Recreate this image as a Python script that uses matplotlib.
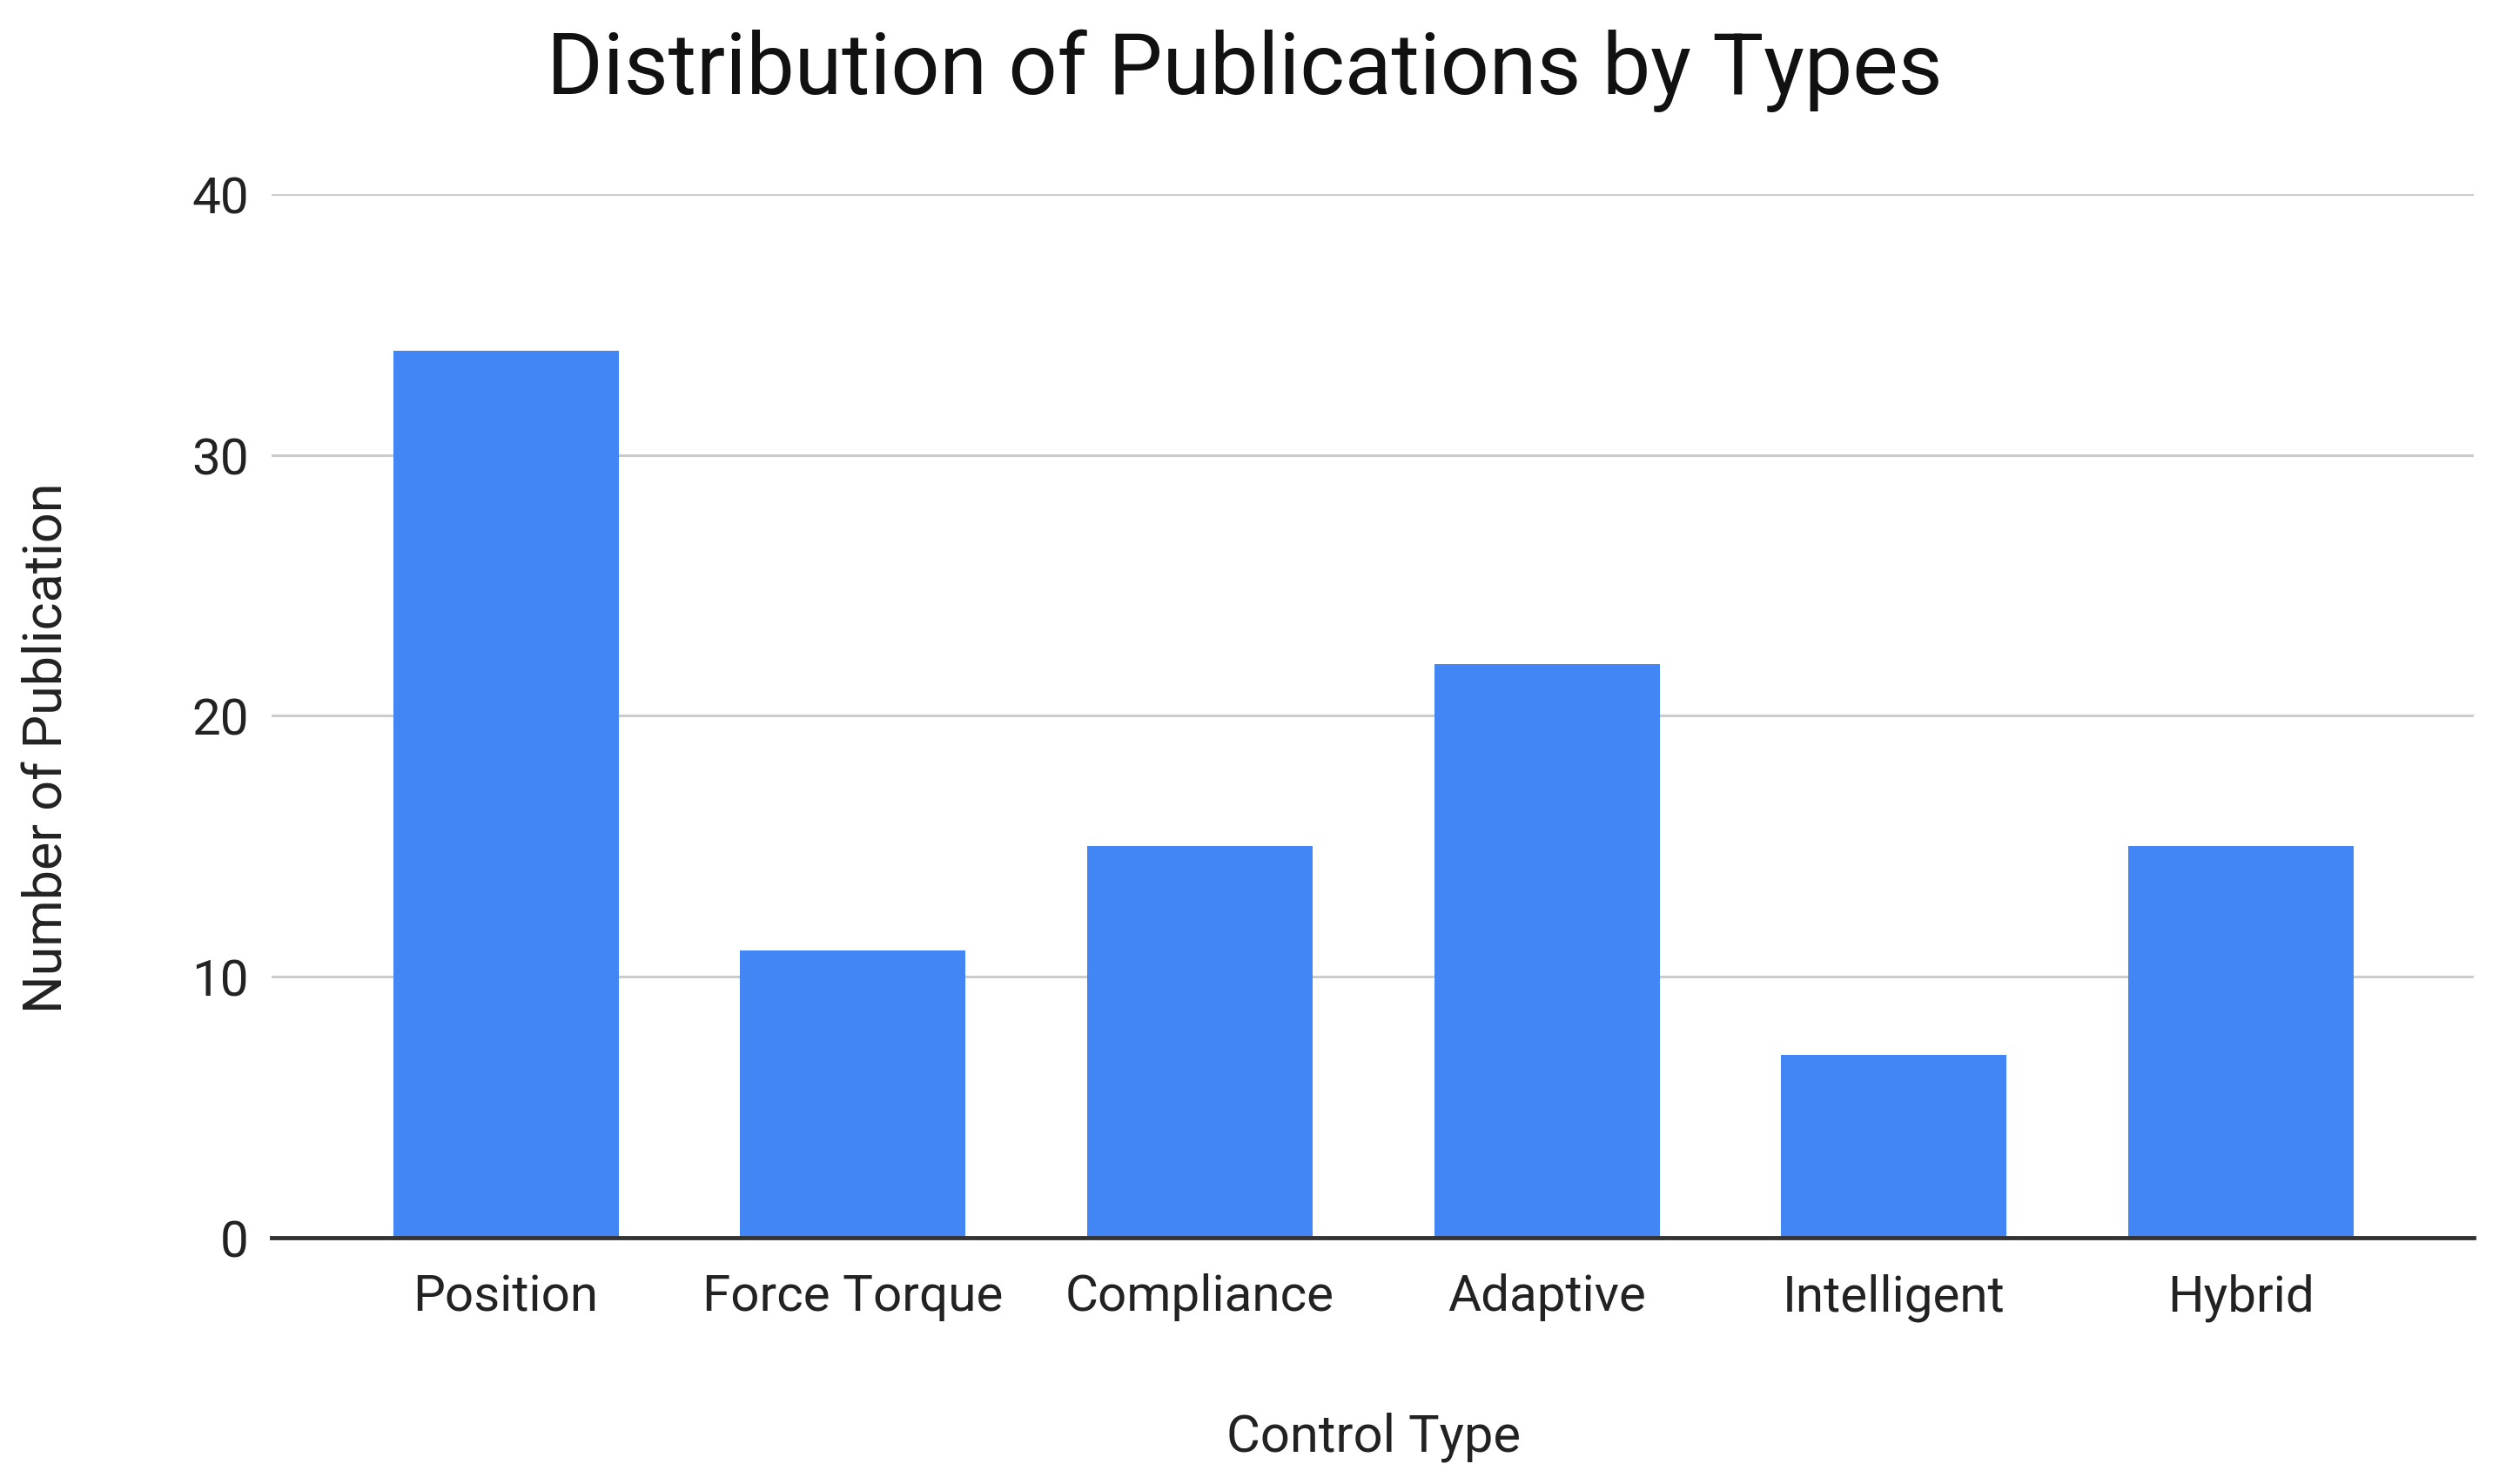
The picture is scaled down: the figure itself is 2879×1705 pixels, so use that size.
import matplotlib
matplotlib.use("Agg")
import matplotlib.pyplot as plt

categories = ["Position", "Force Torque", "Compliance", "Adaptive", "Intelligent", "Hybrid"]
values = [34, 11, 15, 22, 7, 15]
yticks = [0, 10, 20, 30, 40]

plt.rcParams['font.family'] = ['Roboto', 'DejaVu Sans']

fig = plt.figure(figsize=(28.79, 17.06), dpi=100)
ax = fig.add_axes([0.1084, 0.1659, 0.987 - 0.1084, 0.8687 - 0.1659])

x = list(range(len(categories)))
ax.bar(x, values, width=0.65, color="#4285F4", zorder=3)

ax.set_ylim(0, 40)
ax.set_xlim(-0.675, len(categories) - 0.33)
ax.set_yticks(yticks)
ax.set_yticklabels([str(t) for t in yticks])
ax.set_xticks(x)
ax.set_xticklabels(categories)

ax.yaxis.grid(True, color="#cccccc", linewidth=2.2, zorder=0)
ax.xaxis.grid(False)
for s in ["top", "right", "left"]:
    ax.spines[s].set_visible(False)
ax.spines["bottom"].set_color("#333333")
ax.spines["bottom"].set_linewidth(3.5)
ax.spines["bottom"].set_zorder(4)

ax.tick_params(axis="both", length=0, labelsize=42, colors="#222222")
ax.tick_params(axis="y", pad=19)
ax.tick_params(axis="x", pad=29)

fig.text(0.0191, 0.4965, "Number of Publication", fontsize=44, color="#222222",
         rotation=90, ha="center", va="center")
fig.text(0.548, 0.032, "Control Type", fontsize=43, color="#222222",
         ha="center", va="center")

fig.text(0.4968, 0.9365, "Distribution of Publications by Types", fontsize=71,
         color="#111111", ha="center", va="baseline")

fig.savefig("out.png", dpi=100, facecolor="white")
